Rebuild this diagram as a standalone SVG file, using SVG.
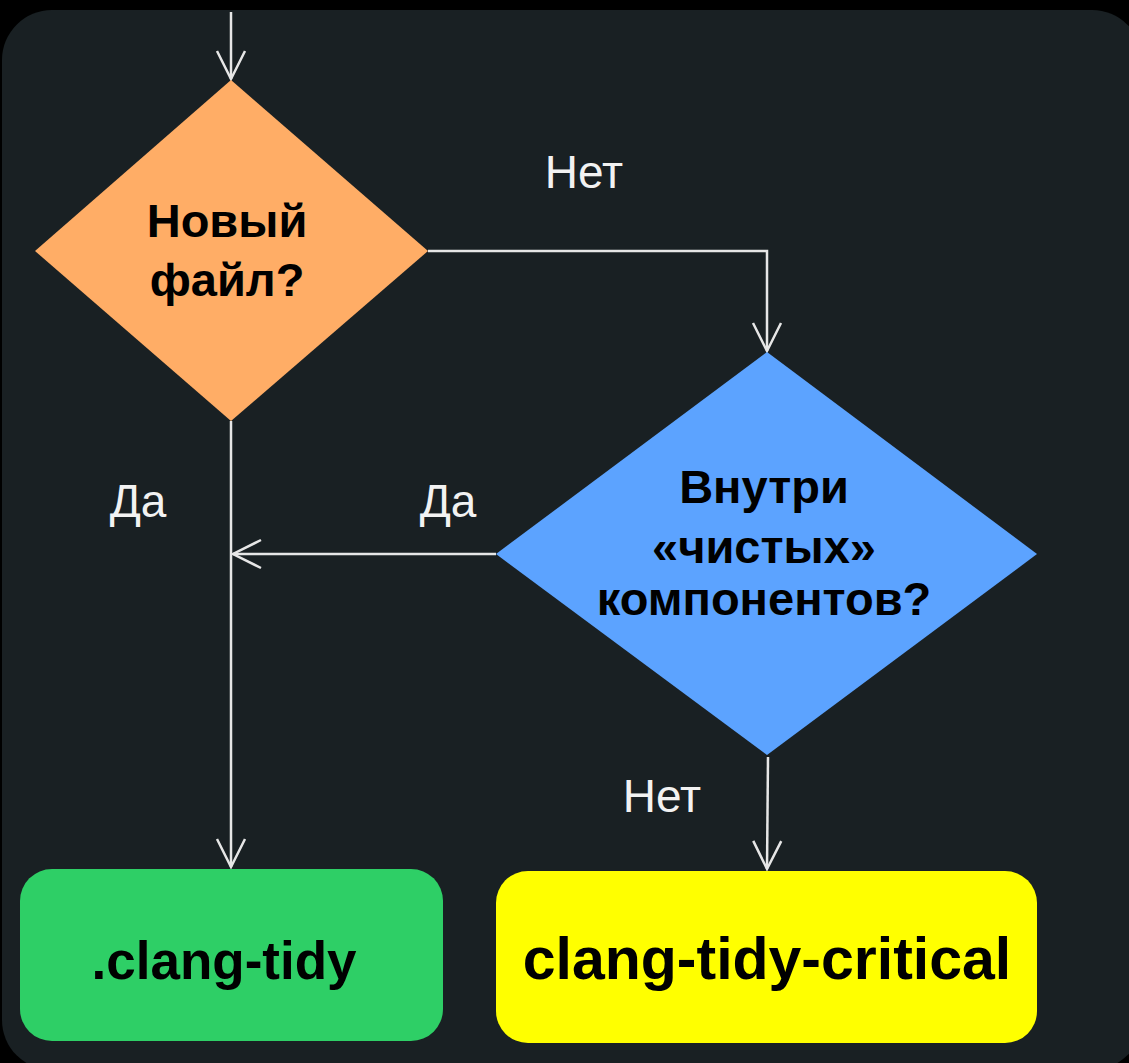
<svg xmlns="http://www.w3.org/2000/svg" width="1129" height="1063" viewBox="0 0 1129 1063">
<defs>
<marker id="arr" markerUnits="userSpaceOnUse" markerWidth="34" markerHeight="34" viewBox="-30 -16 34 32" refX="0" refY="0" orient="auto">
<path d="M-28,-14 L0,0 L-28,14" fill="none" stroke="#E6E6E6" stroke-width="2.5"/>
</marker>
<style>
.bg{fill:#000}
.panel{fill:#192023}
.conn{fill:none;stroke:#E6E6E6;stroke-width:2.5;marker-end:url(#arr)}
.lbl{font-family:"Liberation Sans",Arial,sans-serif;font-size:46px;fill:#F2F2F2;text-anchor:middle}
.nt{font-family:"Liberation Sans",Arial,sans-serif;font-weight:bold;font-size:47px;fill:#000;text-anchor:middle}
</style>
</defs>
<rect class="bg" x="0" y="0" width="1129" height="1063"/>
<rect class="panel" x="2" y="10" width="1140" height="1060" rx="50"/>
<g id="connectors">
<line class="conn" x1="231" y1="12" x2="231" y2="79"/>
<polyline class="conn" points="428,251 767,251 767,351"/>
<line class="conn" x1="231" y1="421" x2="231" y2="867"/>
<line class="conn" x1="496" y1="554" x2="233" y2="554"/>
<line class="conn" x1="768" y1="757" x2="767" y2="869"/>
</g>
<g id="labels">
<text class="lbl" x="584" y="188">Нет</text>
<text class="lbl" x="138" y="517">Да</text>
<text class="lbl" x="448" y="517">Да</text>
<text class="lbl" x="662" y="812">Нет</text>
</g>
<g id="node-new-file">
<polygon points="231,80 428,251 231,421 35,251" fill="#FFAD66"/>
<text class="nt" x="227" y="237">Новый</text>
<text class="nt" x="227" y="296">файл?</text>
</g>
<g id="node-clean-components">
<polygon points="767,352 1037,554 767,755 496,554" fill="#5CA3FF"/>
<text class="nt" x="764" y="503">Внутри</text>
<text class="nt" x="764" y="563">«чистых»</text>
<text class="nt" x="764" y="615">компонентов?</text>
</g>
<g id="node-clang-tidy">
<rect x="20" y="869" width="423" height="172" rx="32" fill="#2ECF66"/>
<text class="nt" x="224" y="979" style="font-size:53px">.clang-tidy</text>
</g>
<g id="node-clang-tidy-critical">
<rect x="496" y="871" width="541" height="172" rx="32" fill="#FFFF00"/>
<text class="nt" x="767" y="979" style="font-size:59px">clang-tidy-critical</text>
</g>
</svg>
